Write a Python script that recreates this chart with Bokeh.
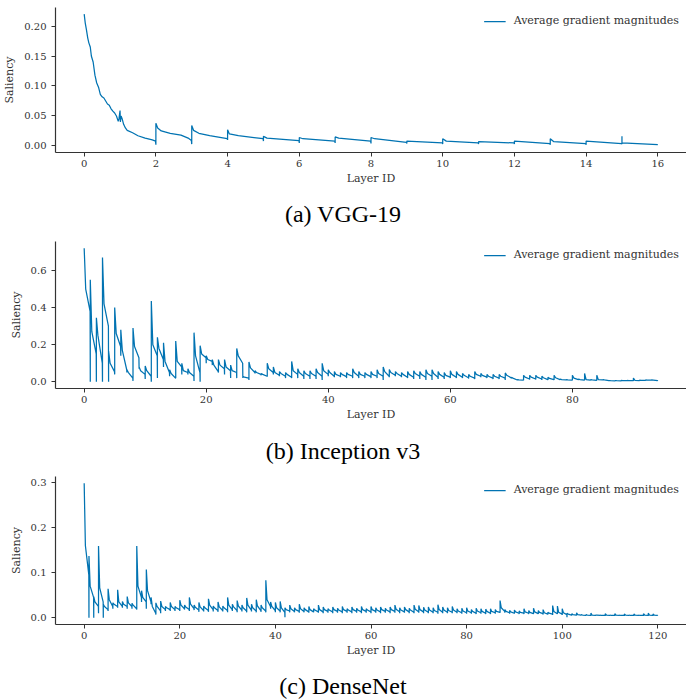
from bokeh.plotting import figure
from bokeh.layouts import column
from bokeh.models import (Div, FixedTicker, PrintfTickFormatter, Range1d,
                          Legend, LegendItem)
from bokeh.embed import file_html
from bokeh.resources import INLINE

# ---------------- data ----------------
# (a) VGG-19: sampled points of the saliency curve (layer position, value)
vgg_x = [0.00, 0.03, 0.06, 0.10, 0.13, 0.17, 0.20, 0.25, 0.30, 0.35, 0.40, 0.45,
         0.50, 0.55, 0.60, 0.65, 0.70, 0.75, 0.80, 0.85, 0.90, 0.95, 0.97, 1.00,
         1.01, 1.03, 1.06, 1.10, 1.15, 1.20, 1.35, 1.50, 1.70, 1.90, 1.99,
         2.00, 2.00, 2.05, 2.15, 2.40, 2.70, 2.90, 2.99,
         3.00, 3.00, 3.05, 3.20, 3.50, 3.99,
         4.00, 4.00, 4.05, 4.30, 4.99,
         5.00, 5.00, 5.10, 5.99,
         6.00, 6.00, 6.10, 6.99,
         7.00, 7.00, 7.10, 7.99,
         8.00, 8.00, 8.10, 8.99,
         9.00, 9.00, 9.99,
         10.00, 10.00, 10.10, 10.99,
         11.00, 11.00, 11.99,
         12.00, 12.00, 12.99,
         13.00, 13.00, 13.10, 13.99,
         14.00, 14.00, 14.99,
         15.00, 15.00, 15.00, 16.00]
vgg_y = [0.220, 0.205, 0.195, 0.180, 0.172, 0.165, 0.150, 0.140, 0.118, 0.105, 0.098, 0.086,
         0.082, 0.080, 0.075, 0.070, 0.068, 0.062, 0.058, 0.055, 0.050, 0.041, 0.045, 0.059,
         0.040, 0.050, 0.045, 0.036, 0.030, 0.026, 0.022, 0.017, 0.013, 0.010, 0.008,
         0.002, 0.038, 0.030, 0.025, 0.021, 0.018, 0.013, 0.009,
         0.003, 0.034, 0.026, 0.021, 0.017, 0.012,
         0.010, 0.027, 0.020, 0.017, 0.012,
         0.008, 0.016, 0.013, 0.009,
         0.005, 0.014, 0.012, 0.008,
         0.005, 0.015, 0.013, 0.008,
         0.004, 0.014, 0.012, 0.006,
         0.004, 0.008, 0.005,
         0.003, 0.012, 0.008, 0.005,
         0.003, 0.007, 0.005,
         0.003, 0.008, 0.004,
         0.002, 0.012, 0.007, 0.004,
         0.002, 0.008, 0.004,
         0.003, 0.016, 0.005, 0.002]

# (b) Inception v3: per layer -> dip at layer start, peak, value shortly after, value at layer end
inc_dip = [0.0, 0.0, 0.0, 0.0, 0.0, 0.04, 0.14, 0.05, 0.005, 0.07,
           0.015, 0.0, 0.02, 0.08, 0.03, 0.02, 0.04, 0.04, 0.005, 0.0,
           0.10, 0.09, 0.05, 0.04, 0.02, 0.02, 0.02, 0.01, 0.045, 0.035,
           0.03, 0.04, 0.03, 0.02, 0.02, 0.02, 0.015, 0.015, 0.015, 0.01,
           0.03, 0.025, 0.025, 0.02, 0.02, 0.02, 0.02, 0.02, 0.02, 0.01,
           0.025, 0.03, 0.025, 0.02, 0.015, 0.015, 0.01, 0.01, 0.015, 0.015,
           0.02, 0.02, 0.02, 0.018, 0.015, 0.025, 0.02, 0.015, 0.015, 0.01,
           0.018, 0.009, 0.008, 0.012, 0.012, 0.01, 0.01, 0.01, 0.01, 0.009,
           0.008, 0.01, 0.008, 0.008, 0.007, 0.009, 0.005, 0.005, 0.005, 0.006,
           0.005, 0.007, 0.008, 0.008]
inc_peak = [0.72, 0.55, 0.345, 0.67, 0.165, 0.40, 0.28, 0.065, 0.29, 0.08,
            0.085, 0.435, 0.24, 0.21, 0.065, 0.22, 0.10, 0.07, 0.265, 0.195,
            0.14, 0.12, 0.12, 0.12, 0.09, 0.18, 0.03, 0.107, 0.06, 0.045,
            0.10, 0.08, 0.055, 0.05, 0.11, 0.07, 0.06, 0.06, 0.07, 0.10,
            0.065, 0.055, 0.05, 0.05, 0.07, 0.055, 0.05, 0.055, 0.065, 0.08,
            0.066, 0.055, 0.05, 0.055, 0.06, 0.055, 0.065, 0.065, 0.055, 0.05,
            0.06, 0.055, 0.045, 0.04, 0.055, 0.045, 0.04, 0.04, 0.04, 0.048,
            0.025, 0.012, 0.035, 0.035, 0.035, 0.03, 0.025, 0.035, 0.015, 0.012,
            0.035, 0.015, 0.045, 0.012, 0.035, 0.012, 0.007, 0.007, 0.008, 0.008,
            0.02, 0.009, 0.01, 0.01]
inc_knee = [0.50, 0.27, 0.25, 0.42, 0.10, 0.26, 0.17, 0.05, 0.19, 0.06,
            0.06, 0.20, 0.18, 0.11, 0.045, 0.11, 0.06, 0.05, 0.14, 0.15,
            0.12, 0.09, 0.09, 0.08, 0.06, 0.14, 0.025, 0.075, 0.05, 0.04,
            0.07, 0.05, 0.045, 0.04, 0.06, 0.05, 0.045, 0.045, 0.05, 0.06,
            0.05, 0.04, 0.04, 0.04, 0.05, 0.04, 0.04, 0.04, 0.045, 0.055,
            0.05, 0.045, 0.04, 0.04, 0.045, 0.04, 0.045, 0.045, 0.04, 0.035,
            0.04, 0.04, 0.035, 0.03, 0.04, 0.035, 0.03, 0.03, 0.03, 0.035,
            0.02, 0.011, 0.025, 0.025, 0.025, 0.022, 0.018, 0.022, 0.012, 0.01,
            0.02, 0.012, 0.012, 0.01, 0.012, 0.01, 0.006, 0.006, 0.007, 0.007,
            0.008, 0.008, 0.009, 0.009]
inc_end = [0.38, 0.15, 0.10, 0.30, 0.055, 0.19, 0.065, 0.02, 0.13, 0.04,
           0.03, 0.14, 0.12, 0.05, 0.02, 0.08, 0.05, 0.03, 0.05, 0.13,
           0.11, 0.055, 0.07, 0.06, 0.05, 0.10, 0.02, 0.05, 0.04, 0.03,
           0.05, 0.035, 0.03, 0.025, 0.04, 0.03, 0.03, 0.03, 0.03, 0.04,
           0.03, 0.03, 0.028, 0.03, 0.03, 0.03, 0.028, 0.03, 0.03, 0.03,
           0.035, 0.03, 0.025, 0.025, 0.03, 0.025, 0.03, 0.025, 0.025, 0.025,
           0.025, 0.025, 0.022, 0.02, 0.03, 0.025, 0.02, 0.02, 0.02, 0.022,
           0.01, 0.009, 0.015, 0.015, 0.015, 0.012, 0.012, 0.012, 0.01, 0.009,
           0.012, 0.009, 0.009, 0.008, 0.01, 0.006, 0.005, 0.005, 0.006, 0.006,
           0.007, 0.008, 0.009, 0.006]
inc_last = 0.005

# (c) DenseNet
den_dip = [0.0, 0.0, 0.0, 0.01, 0.0, 0.015, 0.02, 0.022, 0.022, 0.02,
           0.02, 0.018, 0.035, 0.02, 0.03, 0.007, 0.01, 0.015, 0.015, 0.015,
           0.015, 0.018, 0.015, 0.017, 0.013, 0.014, 0.013, 0.014, 0.013, 0.014,
           0.012, 0.015, 0.012, 0.014, 0.012, 0.014, 0.012, 0.013, 0.012, 0.02,
           0.012, 0.012, 0.001, 0.012, 0.012, 0.011, 0.012, 0.011, 0.012, 0.011,
           0.01, 0.011, 0.01, 0.011, 0.01, 0.011, 0.01, 0.011, 0.01, 0.011,
           0.01, 0.011, 0.01, 0.011, 0.01, 0.011, 0.01, 0.011, 0.01, 0.01,
           0.011, 0.01, 0.01, 0.01, 0.009, 0.01, 0.01, 0.01, 0.01, 0.009,
           0.009, 0.009, 0.008, 0.009, 0.008, 0.008, 0.009, 0.011, 0.011, 0.009,
           0.009, 0.008, 0.008, 0.008, 0.008, 0.008, 0.007, 0.007, 0.006, 0.008,
           0.006, 0.001, 0.005, 0.005, 0.005, 0.005, 0.004, 0.005, 0.005, 0.004,
           0.005, 0.004, 0.005, 0.004, 0.005, 0.004, 0.005, 0.004, 0.004, 0.004]
den_peak = [0.298, 0.137, 0.047, 0.159, 0.03, 0.064, 0.033, 0.062, 0.036, 0.047,
            0.032, 0.159, 0.06, 0.107, 0.045, 0.033, 0.037, 0.025, 0.034, 0.025,
            0.039, 0.028, 0.045, 0.028, 0.034, 0.026, 0.042, 0.026, 0.035, 0.026,
            0.045, 0.03, 0.038, 0.028, 0.044, 0.03, 0.04, 0.028, 0.083, 0.035,
            0.034, 0.036, 0.022, 0.028, 0.022, 0.03, 0.022, 0.025, 0.02, 0.028,
            0.024, 0.02, 0.024, 0.021, 0.025, 0.02, 0.024, 0.021, 0.025, 0.02,
            0.025, 0.022, 0.024, 0.021, 0.024, 0.028, 0.022, 0.024, 0.021, 0.028,
            0.027, 0.023, 0.024, 0.022, 0.029, 0.024, 0.022, 0.025, 0.02, 0.021,
            0.022, 0.018, 0.021, 0.02, 0.019, 0.02, 0.018, 0.038, 0.018, 0.016,
            0.017, 0.015, 0.02, 0.016, 0.021, 0.016, 0.018, 0.012, 0.027, 0.026,
            0.02, 0.01, 0.009, 0.011, 0.007, 0.007, 0.01, 0.006, 0.006, 0.009,
            0.006, 0.009, 0.006, 0.008, 0.006, 0.008, 0.006, 0.009, 0.01, 0.008]
den_knee = [0.16, 0.07, 0.035, 0.066, 0.025, 0.04, 0.03, 0.035, 0.03, 0.033,
            0.028, 0.07, 0.045, 0.06, 0.025, 0.025, 0.025, 0.022, 0.025, 0.022,
            0.028, 0.024, 0.03, 0.023, 0.024, 0.022, 0.028, 0.022, 0.024, 0.022,
            0.028, 0.024, 0.026, 0.022, 0.028, 0.022, 0.026, 0.022, 0.04, 0.025,
            0.022, 0.022, 0.018, 0.02, 0.018, 0.02, 0.018, 0.018, 0.017, 0.018,
            0.018, 0.017, 0.018, 0.017, 0.018, 0.017, 0.018, 0.017, 0.018, 0.017,
            0.018, 0.017, 0.018, 0.017, 0.018, 0.019, 0.017, 0.018, 0.017, 0.019,
            0.018, 0.017, 0.017, 0.016, 0.018, 0.017, 0.016, 0.017, 0.015, 0.015,
            0.015, 0.014, 0.015, 0.014, 0.014, 0.014, 0.014, 0.022, 0.014, 0.013,
            0.013, 0.012, 0.013, 0.012, 0.013, 0.012, 0.011, 0.01, 0.014, 0.012,
            0.011, 0.008, 0.007, 0.007, 0.006, 0.006, 0.006, 0.006, 0.005, 0.006,
            0.005, 0.006, 0.005, 0.006, 0.005, 0.006, 0.005, 0.006, 0.006, 0.006]
den_end = [0.095, 0.045, 0.025, 0.035, 0.018, 0.025, 0.025, 0.025, 0.025, 0.025,
           0.02, 0.045, 0.035, 0.035, 0.01, 0.015, 0.018, 0.018, 0.018, 0.018,
           0.02, 0.018, 0.02, 0.017, 0.016, 0.016, 0.018, 0.016, 0.016, 0.016,
           0.018, 0.016, 0.017, 0.015, 0.017, 0.015, 0.016, 0.015, 0.025, 0.016,
           0.015, 0.012, 0.015, 0.014, 0.014, 0.014, 0.013, 0.013, 0.013, 0.013,
           0.014, 0.013, 0.014, 0.013, 0.014, 0.013, 0.014, 0.013, 0.014, 0.013,
           0.014, 0.013, 0.014, 0.013, 0.014, 0.013, 0.013, 0.013, 0.012, 0.013,
           0.013, 0.012, 0.012, 0.012, 0.012, 0.012, 0.012, 0.012, 0.011, 0.011,
           0.011, 0.01, 0.011, 0.01, 0.01, 0.011, 0.012, 0.014, 0.011, 0.01,
           0.01, 0.01, 0.01, 0.009, 0.009, 0.009, 0.008, 0.008, 0.009, 0.008,
           0.007, 0.006, 0.006, 0.006, 0.005, 0.005, 0.005, 0.005, 0.005, 0.005,
           0.005, 0.005, 0.005, 0.005, 0.005, 0.005, 0.005, 0.005, 0.005, 0.005]
den_last = 0.0045

vgg_xticks = [0, 2, 4, 6, 8, 10, 12, 14, 16]
vgg_yticks = [0.00, 0.05, 0.10, 0.15, 0.20]
inc_xticks = [0, 20, 40, 60, 80]
inc_yticks = [0.0, 0.2, 0.4, 0.6]
den_xticks = [0, 20, 40, 60, 80, 100, 120]
den_yticks = [0.0, 0.1, 0.2, 0.3]

captions = ["(a) VGG-19", "(b) Inception v3", "(c) DenseNet"]
legend_label = "Average gradient magnitudes"

# ---------------- helpers ----------------
LINE = "#0173B2"
AX = "#333333"
SERIF = "DejaVu Serif"


def layered_series(dip, peak, knee, end, last):
    xs, ys = [], []
    for k in range(len(peak)):
        if k > 0:
            xs.append(k)
            ys.append(dip[k])
        xs += [k, k + 0.25, k + 0.97]
        ys += [peak[k], knee[k], end[k]]
    xs.append(len(peak))
    ys.append(last)
    return xs, ys


def make_panel(xs, ys, xr, yr, xticks, yticks, yfmt, height, top, bottom, left):
    p = figure(width=686, height=height, output_backend="svg",
               toolbar_location=None, x_range=Range1d(*xr), y_range=Range1d(*yr),
               min_border_left=left, min_border_right=0,
               min_border_top=top, min_border_bottom=bottom)
    p.outline_line_color = None
    p.xgrid.grid_line_color = None
    p.ygrid.grid_line_color = None
    r = p.line(xs, ys, line_color=LINE, line_width=1.25)
    for ax in (p.xaxis[0], p.yaxis[0]):
        ax.axis_line_color = AX
        ax.axis_line_width = 1.2
        ax.major_tick_line_color = AX
        ax.major_tick_line_width = 1.0
        ax.major_tick_out = 4
        ax.major_tick_in = 0
        ax.minor_tick_line_color = None
        ax.major_label_text_font = SERIF
        ax.major_label_text_font_size = "10px"
        ax.major_label_text_color = AX
        ax.axis_label_text_font = SERIF
        ax.axis_label_text_font_size = "11px"
        ax.axis_label_text_font_style = "normal"
        ax.axis_label_text_color = AX
    p.xaxis[0].ticker = FixedTicker(ticks=xticks)
    p.yaxis[0].ticker = FixedTicker(ticks=yticks)
    p.yaxis[0].formatter = PrintfTickFormatter(format=yfmt)
    p.xaxis[0].axis_label = "Layer ID"
    p.yaxis[0].axis_label = "Saliency"
    p.xaxis[0].major_label_standoff = 3
    p.xaxis[0].axis_label_standoff = 2
    p.yaxis[0].major_label_standoff = 5
    p.yaxis[0].axis_label_standoff = 5

    leg = Legend(items=[LegendItem(label=legend_label, renderers=[r])],
                 location="top_right", margin=7, padding=0,
                 glyph_width=22, glyph_height=8, label_height=8,
                 label_standoff=8, spacing=0,
                 background_fill_alpha=0, border_line_alpha=0,
                 label_text_font=SERIF, label_text_font_size="11px",
                 label_text_color=AX)
    p.add_layout(leg)
    return p


def caption_div(text, height, pad_top, pad_left):
    html = ('<div style="font-family: \'Liberation Serif\', serif; font-size: 24px; '
            'line-height: 24px; color: #000; text-align: center; width: %dpx; '
            'padding-top: %dpx; padding-left: %dpx; margin: 0;">%s</div>'
            % (686 - pad_left, pad_top, pad_left, text))
    return Div(text=html, width=686, height=height, margin=0)


inc_x, inc_y = layered_series(inc_dip, inc_peak, inc_knee, inc_end, inc_last)
den_x, den_y = layered_series(den_dip, den_peak, den_knee, den_end, den_last)

pa = make_panel(vgg_x, vgg_y, (-0.8, 16.8), (-0.011, 0.231), vgg_xticks, vgg_yticks,
                "%.2f", 192, 7, 40, 54)
pb = make_panel(inc_x, inc_y, (-4.7, 98.7), (-0.036, 0.756), inc_xticks, inc_yticks,
                "%.1f", 192, 5, 40, 48)
pc = make_panel(den_x, den_y, (-6, 126), (-0.015, 0.313), den_xticks, den_yticks,
                "%.1f", 194, 6, 40, 48)

ca = caption_div(captions[0], 44, 10, 0)
cb = caption_div(captions[1], 42, 11, 6)
cc = caption_div(captions[2], 36, 10, 6)

layout = column(pa, ca, pb, cb, pc, cc, spacing=0)
open("out.html", "w").write(file_html(layout, INLINE))
